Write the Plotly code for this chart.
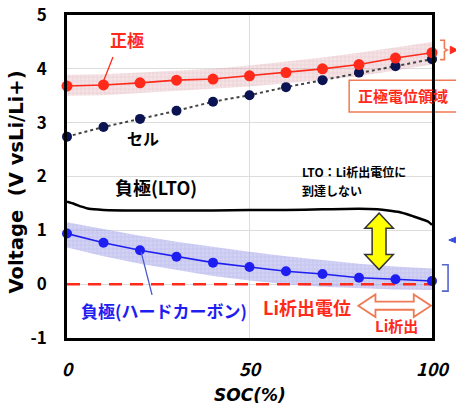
import plotly.graph_objects as go

# State of charge (%) at which the electrode / cell voltages were sampled
soc = [0, 10, 20, 30, 40, 50, 60, 70, 80, 90, 100]

# Positive electrode potential (V vs Li/Li+) and its spread
v_pos = [3.68, 3.70, 3.74, 3.79, 3.81, 3.87, 3.93, 4.00, 4.08, 4.20, 4.30]
pos_upper = [3.89, 3.90, 3.93, 3.97, 4.00, 4.06, 4.13, 4.21, 4.30, 4.40, 4.50]
pos_lower = [3.50, 3.51, 3.55, 3.59, 3.62, 3.67, 3.73, 3.79, 3.86, 3.97, 4.08]

# Cell voltage
v_cell = [2.74, 2.92, 3.07, 3.22, 3.39, 3.51, 3.66, 3.79, 3.93, 4.05, 4.18]

# Negative electrode (hard carbon) potential and its spread
v_neg = [0.94, 0.77, 0.63, 0.51, 0.40, 0.32, 0.24, 0.19, 0.12, 0.09, 0.06]
neg_upper = [1.15, 1.02, 0.90, 0.79, 0.69, 0.60, 0.52, 0.45, 0.38, 0.33, 0.29]
neg_lower = [0.68, 0.52, 0.38, 0.26, 0.15, 0.07, 0.00, -0.05, -0.08, -0.10, -0.11]

# Negative electrode (LTO) potential curve
soc_lto = [0, 2, 4, 6, 10, 20, 30, 40, 50, 60, 70, 80, 85, 88, 91, 94, 97, 99, 100]
v_lto = [1.53, 1.49, 1.44, 1.40, 1.38, 1.37, 1.37, 1.37, 1.38, 1.38, 1.39, 1.40,
         1.39, 1.37, 1.34, 1.28, 1.21, 1.16, 1.10]

# Li plating potential
li_plating_v = 0.0

x_ticks = [0, 50, 100]
y_ticks = [-1, 0, 1, 2, 3, 4, 5]

X_RANGE = [0, 100]
Y_RANGE = [-1, 5]

JP = "Noto Sans CJK JP"
LATIN = "DejaVu Sans"
RED = "#ff2a1a"
BLUE = "#1e1ef0"
NAVY = "#0b1352"
ORANGE = "#f07a55"

fig = go.Figure()

# Spread bands
fig.add_trace(go.Scatter(x=soc, y=pos_lower, mode="lines", line=dict(width=0),
                         hoverinfo="skip", showlegend=False))
fig.add_trace(go.Scatter(x=soc, y=pos_upper, mode="lines", line=dict(width=0),
                         fill="tonexty", fillcolor="rgba(232,175,185,0.45)",
                         fillpattern=dict(shape="+", size=4, solidity=0.25,
                                          fgcolor="rgba(190,120,140,0.45)",
                                          bgcolor="rgba(234,192,198,0.45)"),
                         hoverinfo="skip", showlegend=False))
fig.add_trace(go.Scatter(x=soc, y=neg_lower, mode="lines", line=dict(width=0),
                         hoverinfo="skip", showlegend=False))
fig.add_trace(go.Scatter(x=soc, y=neg_upper, mode="lines", line=dict(width=0),
                         fill="tonexty", fillcolor="rgba(150,150,230,0.45)",
                         fillpattern=dict(shape="+", size=4, solidity=0.25,
                                          fgcolor="rgba(110,110,200,0.45)",
                                          bgcolor="rgba(165,165,235,0.5)"),
                         hoverinfo="skip", showlegend=False))

# Li plating potential line
fig.add_trace(go.Scatter(x=X_RANGE, y=[li_plating_v, li_plating_v], mode="lines",
                         line=dict(color=RED, width=2.5, dash="13px,8px"),
                         showlegend=False))

# LTO negative electrode
fig.add_trace(go.Scatter(x=soc_lto, y=v_lto, mode="lines",
                         line=dict(color="black", width=2.5, shape="spline", smoothing=0.6),
                         showlegend=False))

# Cell voltage
fig.add_trace(go.Scatter(x=soc, y=v_cell, mode="lines+markers",
                         line=dict(color="#444444", width=2, dash="dot"),
                         marker=dict(color=NAVY, size=10),
                         showlegend=False, cliponaxis=False))

# Positive electrode
fig.add_trace(go.Scatter(x=soc, y=v_pos, mode="lines+markers",
                         line=dict(color=RED, width=1.6),
                         marker=dict(color=RED, size=11),
                         showlegend=False, cliponaxis=False))

# Hard carbon negative electrode
fig.add_trace(go.Scatter(x=soc, y=v_neg, mode="lines+markers",
                         line=dict(color=BLUE, width=1.6),
                         marker=dict(color=BLUE, size=10),
                         showlegend=False, cliponaxis=False))


def to_paper(s, v):
    """Map (SOC, voltage) to paper coordinates so shapes can sit outside the plot."""
    return (s - X_RANGE[0]) / (X_RANGE[1] - X_RANGE[0]), (v - Y_RANGE[0]) / (Y_RANGE[1] - Y_RANGE[0])


def path_from(points, close=True, paper=False):
    pts = [to_paper(*p) if paper else p for p in points]
    d = "M " + " L ".join(f"{x:.4f},{y:.4f}" for x, y in pts)
    return d + (" Z" if close else "")


def vertical_double_arrow(xc, y_bot, y_top, head_w, shaft_w, head_l):
    return [(xc, y_top), (xc + head_w, y_top - head_l), (xc + shaft_w, y_top - head_l),
            (xc + shaft_w, y_bot + head_l), (xc + head_w, y_bot + head_l), (xc, y_bot),
            (xc - head_w, y_bot + head_l), (xc - shaft_w, y_bot + head_l),
            (xc - shaft_w, y_top - head_l), (xc - head_w, y_top - head_l)]


def horizontal_double_arrow(x_l, x_r, yc, head_h, shaft_h, head_l):
    return [(x_l, yc), (x_l + head_l, yc + head_h), (x_l + head_l, yc + shaft_h),
            (x_r - head_l, yc + shaft_h), (x_r - head_l, yc + head_h), (x_r, yc),
            (x_r - head_l, yc - head_h), (x_r - head_l, yc - shaft_h),
            (x_l + head_l, yc - shaft_h), (x_l + head_l, yc - head_h)]


shapes = []
# Margin between LTO potential and plating potential
shapes.append(dict(type="path", xref="x", yref="y",
                   path=path_from(vertical_double_arrow(85.5, 0.27, 1.32, 3.9, 1.9, 0.28)),
                   fillcolor="#ffff00", line=dict(color="#333333", width=1.5), layer="above"))
# Li plating region
shapes.append(dict(type="path", xref="x", yref="y",
                   path=path_from(horizontal_double_arrow(79.8, 99.7, -0.40, 0.21, 0.075, 4.7)),
                   fillcolor="white", line=dict(color=ORANGE, width=1.8), layer="above"))
# Leader lines
shapes.append(dict(type="line", xref="x", yref="y", x0=12.6, y0=4.22, x1=10.1, y1=3.79,
                   line=dict(color=RED, width=1.3)))
shapes.append(dict(type="line", xref="x", yref="y", x0=20.3, y0=0.60, x1=23.3, y1=-0.20,
                   line=dict(color="#4a5ad0", width=1.3)))
# Positive-potential brace and pointer to the right of the plot
shapes.append(dict(type="path", xref="paper", yref="paper",
                   path=path_from([(102.2, 4.53), (103.4, 4.53), (103.4, 4.38), (104.2, 4.35),
                                   (103.4, 4.32), (103.4, 4.17), (102.2, 4.17)],
                                  close=False, paper=True),
                   line=dict(color=ORANGE, width=1.6)))
shapes.append(dict(type="path", xref="paper", yref="paper",
                   path=path_from([(105.0, 4.42), (107.0, 4.35), (105.0, 4.28)], paper=True),
                   fillcolor=RED, line=dict(color=RED, width=1)))
# Caption box for the positive-potential note
bx0, by0 = to_paper(77.3, 3.20)
bx1, by1 = to_paper(112.0, 3.79)
shapes.append(dict(type="rect", xref="paper", yref="paper", x0=bx0, y0=by0, x1=bx1, y1=by1,
                   fillcolor="white", line=dict(color=ORANGE, width=1.5), layer="below"))
# Negative-potential bracket and pointer
shapes.append(dict(type="path", xref="paper", yref="paper",
                   path=path_from([(102.7, 0.36), (104.4, 0.36), (104.4, -0.13), (102.7, -0.13)],
                                  close=False, paper=True),
                   line=dict(color="#5566cc", width=1.6)))
shapes.append(dict(type="path", xref="paper", yref="paper",
                   path=path_from([(104.6, 0.82), (107.5, 0.90), (107.5, 0.74)], paper=True),
                   fillcolor="#3a4ee0", line=dict(color="#3a4ee0", width=1)))

annotations = []


def label(text, x, y, color, size, xanchor="center"):
    annotations.append(dict(text=text, x=x, y=y, xref="x", yref="y", showarrow=False,
                            xanchor=xanchor, yanchor="middle",
                            font=dict(family=JP, size=size, color=color, weight="bold")))


label("正極", 16.4, 4.55, RED, 17)
label("セル", 20.8, 2.72, "black", 16)
label("負極(LTO)", 24.4, 1.80, "black", 18)
label("LTO：Li析出電位に", 63.8, 2.09, "black", 12, xanchor="left")
label("到達しない", 63.8, 1.74, "black", 12, xanchor="left")
label("負極(ハードカーボン)", 26.6, -0.48, BLUE, 17)
label("Li析出電位", 65.7, -0.43, RED, 18)
label("Li析出", 90.4, -0.76, RED, 15)

px, py = to_paper(79.3, 3.50)
annotations.append(dict(text="正極電位領域", x=px, y=py, xref="paper", yref="paper",
                        showarrow=False, xanchor="left", yanchor="middle",
                        font=dict(family=JP, size=15, color=RED, weight="bold")))

# Axis titles
annotations.append(dict(text="Voltage  (V vsLi/Li+)", x=-0.137, y=0.4845, xref="paper", yref="paper",
                        showarrow=False, textangle=-90, xanchor="center", yanchor="middle",
                        font=dict(family=LATIN, size=19.5, color="black", weight="bold")))
annotations.append(dict(text="SOC(%)", x=0.5, y=-0.175, xref="paper", yref="paper",
                        showarrow=False, xanchor="center", yanchor="middle",
                        font=dict(family=LATIN, size=17, color="black", weight="bold", style="italic")))

fig.update_layout(
    width=456, height=412,
    margin=dict(l=67, r=24, t=15, b=74, autoexpand=False),
    paper_bgcolor="white", plot_bgcolor="white",
    shapes=shapes, annotations=annotations,
    xaxis=dict(range=X_RANGE, tickvals=x_ticks, ticktext=[str(t) for t in x_ticks],
               showgrid=True, gridcolor="#dddddd", gridwidth=1,
               showline=True, linecolor="black", linewidth=2.5, mirror=True,
               ticks="", ticklabelstandoff=14, zeroline=False,
               tickfont=dict(family=JP, size=18, color="black", weight="bold", style="italic")),
    yaxis=dict(range=Y_RANGE, tickvals=y_ticks, ticktext=[str(t) for t in y_ticks],
               showgrid=True, gridcolor="#dddddd", gridwidth=1,
               showline=True, linecolor="black", linewidth=2.5, mirror=True,
               ticks="", ticklabelstandoff=14, zeroline=False,
               tickfont=dict(family=JP, size=17, color="black", weight="bold")),
)

fig.write_html("out.html")
